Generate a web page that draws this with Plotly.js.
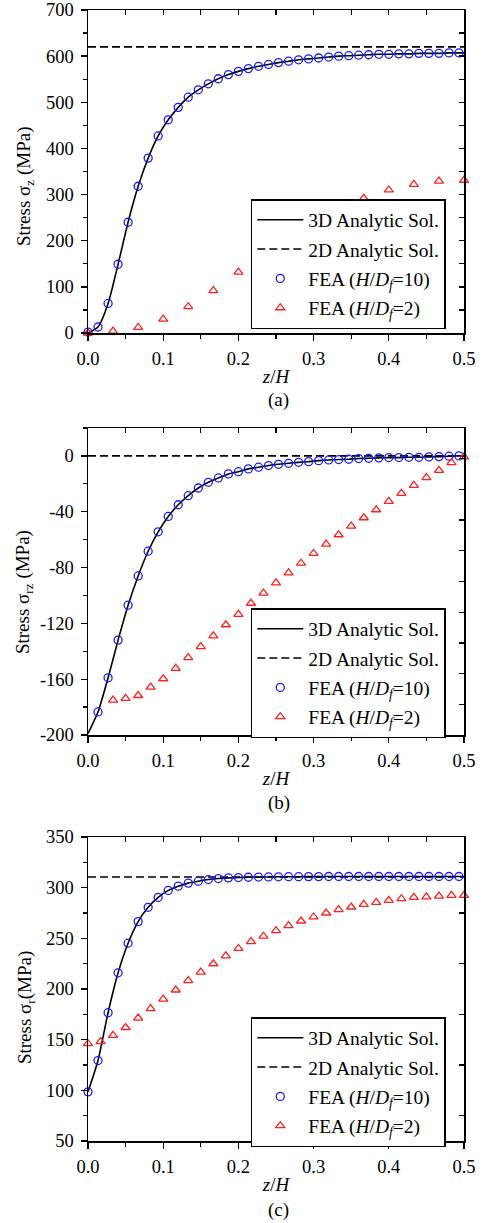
<!DOCTYPE html>
<html>
<head>
<meta charset="utf-8">
<script src="https://cdn.plot.ly/plotly-3.0.1.min.js"></script>
<style>html,body{margin:0;padding:0;background:#fff;}#chart{width:484px;height:1223px;}</style>
</head>
<body>
<div id="chart"></div>
<script>
// ---------- data ----------
const legendNames = ['3D Analytic Sol.', '2D Analytic Sol.', 'FEA (<i>H</i>/<i>D<sub>f</sub></i>=10)', 'FEA (<i>H</i>/<i>D<sub>f</sub></i>=2)'];
const panelLabels = ['(a)', '(b)', '(c)'];
const yTitles = ['Stress σ<sub>z</sub> (MPa)', 'Stress σ<sub>rz</sub> (MPa)', 'Stress σ<sub>r</sub>(MPa)'];

// y tick values per panel
const yTickVals = [
  [0, 100, 200, 300, 400, 500, 600, 700],
  [-200, -160, -120, -80, -40, 0],
  [50, 100, 150, 200, 250, 300, 350]
];

// FEA H/Df=10 positions (z/H)
const zFine = [0,0.0133,0.0267,0.04,0.0533,0.0667,0.08,0.0933,0.1067,0.12,0.1333,0.1467,0.16,0.1733,0.1867,0.2,0.2133,0.2267,0.24,0.2533,0.2667,0.28,0.2933,0.3067,0.32,0.3333,0.3467,0.36,0.3733,0.3867,0.4,0.4133,0.4267,0.44,0.4533,0.4667,0.48,0.4933];
const zLine = [0,0.0133,0.0267,0.04,0.0533,0.0667,0.08,0.0933,0.1067,0.12,0.1333,0.1467,0.16,0.1733,0.1867,0.2,0.2133,0.2267,0.24,0.2533,0.2667,0.28,0.2933,0.3067,0.32,0.3333,0.3467,0.36,0.3733,0.3867,0.4,0.4133,0.4267,0.44,0.4533,0.4667,0.48,0.4933,0.5];
const zRzBlue = [0.0133,0.0267,0.04,0.0533,0.0667,0.08,0.0933,0.1067,0.12,0.1333,0.1467,0.16,0.1733,0.1867,0.2,0.2133,0.2267,0.24,0.2533,0.2667,0.28,0.2933,0.3067,0.32,0.3333,0.3467,0.36,0.3733,0.3867,0.4,0.4133,0.4267,0.44,0.4533,0.4667,0.48,0.4933];
const zCoarse30 = [0,0.0333,0.0667,0.1,0.1333,0.1667,0.2,0.2333,0.2667,0.3,0.3333,0.3667,0.4,0.4333,0.4667,0.5];
const zRzRed = [0.0333,0.05,0.0667,0.0833,0.1,0.1167,0.1333,0.15,0.1667,0.1833,0.2,0.2167,0.2333,0.25,0.2667,0.2833,0.3,0.3167,0.3333,0.35,0.3667,0.3833,0.4,0.4167,0.4333,0.45,0.4667,0.4833,0.5];
const zRRed = [0,0.0167,0.0333,0.05,0.0667,0.0833,0.1,0.1167,0.1333,0.15,0.1667,0.1833,0.2,0.2167,0.2333,0.25,0.2667,0.2833,0.3,0.3167,0.3333,0.35,0.3667,0.3833,0.4,0.4167,0.4333,0.45,0.4667,0.4833,0.5];
const z2D = [0, 0.5];

// (a) sigma_z
const sz3D = [0,13,64,149,240,318,379,427,462,489,511,527,540,551,560,567,573,578,582,586,589,592,594,596,598,600,601,602,603,604,604,605,605,606,606,606,607,607,607];
const sz2D = [620, 620];
const szFEA10 = [2,13,64,149,240,318,379,427,462,489,511,527,540,551,560,567,573,578,582,586,589,592,594,596,598,600,601,602,603,604,604,605,605,606,606,606,607,607];
const szFEA2 = [0,4,12,30,57,92,132,172,208,240,268,292,310,322,329,331];

// (b) sigma_rz
const srz3D = [-199,-183.5,-159,-132,-107,-86,-68.3,-54.4,-43.4,-35,-28.5,-23,-18.9,-15.8,-12.9,-11.3,-9.3,-8.1,-6.9,-6,-5.3,-4.6,-4.1,-3.4,-2.9,-2.6,-2.4,-1.9,-1.7,-1.4,-1.2,-1.2,-1,-1,-0.7,-0.5,-0.2,0,0];
const srz2D = [0, 0];
const srzFEA10 = [-183.5,-159,-132,-107,-86,-68.3,-54.4,-43.4,-35,-28.5,-23,-18.9,-15.8,-12.9,-11.3,-9.3,-8.1,-6.9,-6,-5.3,-4.6,-4.1,-3.4,-2.9,-2.6,-2.4,-1.9,-1.7,-1.4,-1.2,-1.2,-1,-1,-0.7,-0.5,-0.2,0];
const srzFEA2 = [-175,-173.8,-171.7,-165.7,-159.7,-152.2,-144.5,-136.6,-128.9,-121,-113.5,-105.6,-98.3,-91,-83.8,-76.9,-69.9,-63.2,-56.5,-50.3,-44.3,-38.6,-32.6,-26.8,-21.1,-15.6,-10.3,-4.8,-0.7];

// (c) sigma_r
const sr3D = [98.5,129.4,176.6,216,245.2,266.5,280.6,290.4,297.3,301.5,304.5,306.4,308,309,309.7,310,310.3,310.5,310.6,310.7,310.8,310.8,310.9,310.9,311,311,311,311,311,311,311,311,311,311,311,311,311,311,311];
const sr2D = [310.5, 310.5];
const srFEA10 = [98.5,129.4,176.6,216,245.2,266.5,280.6,290.4,297.3,301.5,304.5,306.4,308,309,309.7,310,310.3,310.5,310.6,310.7,310.8,310.8,310.9,310.9,311,311,311,311,311,311,311,311,311,311,311,311,311,311];
const srFEA2 = [146,148,154.3,162,171.3,180.6,190,199,208.2,216.7,224.9,232.7,240,246.8,252.1,257.6,262.5,267.1,271.1,275,278.3,280.9,283.5,285.5,287.4,289.1,290.4,291,291.7,292.4,292.4];

const yRanges = [[0,700],[-200,20],[50,350]];
const yMinor = [50, 20, 25];

// ---------- layout helpers ----------
const W = 484, H = 1223;
const mL = 88, mR = 19.5, mT = 10, mB = 82;
const plotW = W - mL - mR, plotH = H - mT - mB;
const py = p => (H - mB - p) / plotH;
const px = p => (p - mL) / plotW;

const FONT = "'Liberation Serif', 'Times New Roman', Times, serif";
const TICK = 18.5, LEG = 19.5, TIT = 19;
const panelPix = [[10, 333], [428, 735], [837, 1141]];
const legendTop = [199, 608, 1017];
const labelY = [400, 803, 1210];
const yTitlePos = [[25, 186], [24, 592], [26, 1008]];
const rightTicks = [{tick0: 0, dtick: 50}, {tick0: -200, dtick: 22}, {tick0: 75, dtick: 50}];

const sets = [
  {l3: sz3D, l2: sz2D, fx10: zFine, f10: szFEA10, fx2: zCoarse30, f2: szFEA2},
  {l3: srz3D, l2: srz2D, fx10: zRzBlue, f10: srzFEA10, fx2: zRzRed, f2: srzFEA2},
  {l3: sr3D, l2: sr2D, fx10: zFine, f10: srFEA10, fx2: zRRed, f2: srFEA2}
];

const data = [];
const layout = {
  width: W, height: H,
  margin: {l: mL, r: mR, t: mT, b: mB},
  paper_bgcolor: '#fff', plot_bgcolor: '#fff',
  font: {family: FONT, size: TICK, color: '#000'},
  showlegend: true,
  annotations: []
};

sets.forEach((s, k) => {
  const n = k + 1;
  const xa = n === 1 ? 'x' : 'x' + n;
  const ya = n === 1 ? 'y' : 'y' + n;
  const leg = n === 1 ? 'legend' : 'legend' + n;
  data.push({x: zLine, y: s.l3, xaxis: xa, yaxis: ya, legend: leg, legendgroup: 'g1' + n, name: legendNames[0], mode: 'lines',
             line: {color: '#000', width: 1.6, shape: 'spline', smoothing: 0.6}});
  data.push({x: z2D, y: s.l2, xaxis: xa, yaxis: ya, legend: leg, legendgroup: 'g2' + n, name: legendNames[1], mode: 'lines',
             line: {color: '#000', width: 1.6, dash: '8px,4px'}});
  data.push({x: s.fx10, y: s.f10, xaxis: xa, yaxis: ya, legend: leg, legendgroup: 'g3' + n, name: legendNames[2], mode: 'markers',
             marker: {symbol: 'circle-open', size: 8, color: '#1a1aff', line: {width: 1.3, color: '#1a1aff'}}, cliponaxis: false});
  data.push({x: s.fx2, y: s.f2, xaxis: xa, yaxis: ya, legend: leg, legendgroup: 'g4' + n, name: legendNames[3], mode: 'markers',
             marker: {symbol: 'triangle-up-open', size: 8, color: '#ff2020', line: {width: 1.3, color: '#ff2020'}}, cliponaxis: false});

  const dom = [py(panelPix[k][1]), py(panelPix[k][0])];
  const xKey = n === 1 ? 'xaxis' : 'xaxis' + n;
  const yKey = n === 1 ? 'yaxis' : 'yaxis' + n;
  layout[xKey] = {
    anchor: ya, domain: [0, 1], range: [0, 0.5], dtick: 0.1, tick0: 0, tickformat: '.1f',
    ticks: 'outside', ticklen: 6, tickwidth: 1.3, tickcolor: '#000',
    minor: {dtick: 0.05, ticks: 'outside', ticklen: 4, tickwidth: 1.3, tickcolor: '#000', showgrid: false},
    showline: true, mirror: true, linewidth: 1.5, linecolor: '#000',
    showgrid: false, zeroline: false, fixedrange: true, ticklabelstandoff: 2,
    tickfont: {family: FONT, size: TICK, color: '#000'},
    title: {text: '<i>z</i>/<i>H</i>', font: {family: FONT, size: TIT, color: '#000'}, standoff: 2},
    automargin: false
  };
  layout[yKey] = {
    anchor: xa, domain: dom, range: yRanges[k],
    tickmode: 'array', tickvals: yTickVals[k], ticktext: yTickVals[k].map(v => String(v)),
    ticks: 'outside', ticklen: 6, tickwidth: 1.3, tickcolor: '#000',
    minor: {dtick: yMinor[k], tick0: 0, ticks: 'outside', ticklen: 4, tickwidth: 1.3, tickcolor: '#000', showgrid: false},
    showline: true, mirror: true, linewidth: 1.5, linecolor: '#000',
    showgrid: false, zeroline: false, fixedrange: true, ticklabelstandoff: 3,
    tickfont: {family: FONT, size: TICK, color: '#000'},
    automargin: false
  };
  // mirrored inside ticks (top / right)
  const xo = 'x' + (n + 3), yo = 'y' + (n + 3);
  layout['xaxis' + (n + 3)] = {
    overlaying: xa, anchor: ya, side: 'top', range: [0, 0.5], tick0: 0, dtick: 0.05,
    ticks: 'inside', ticklen: 5, tickwidth: 1.3, tickcolor: '#000',
    showticklabels: false, showgrid: false, zeroline: false, showline: false, fixedrange: true
  };
  layout['yaxis' + (n + 3)] = {
    overlaying: ya, anchor: xa, side: 'right', range: yRanges[k], tick0: rightTicks[k].tick0, dtick: rightTicks[k].dtick,
    ticks: 'inside', ticklen: 5, tickwidth: 1.3, tickcolor: '#000',
    showticklabels: false, showgrid: false, zeroline: false, showline: false, fixedrange: true
  };
  data.push({x: [null], y: [null], xaxis: xo, yaxis: yo, mode: 'markers', showlegend: false, hoverinfo: 'skip'});

  layout[leg] = {
    x: px(251), y: py(legendTop[k]), xanchor: 'left', yanchor: 'top',
    bgcolor: '#fff', bordercolor: '#000', borderwidth: 1.5,
    font: {family: FONT, size: LEG, color: '#000'}, tracegroupgap: 1, itemwidth: 46
  };

  layout.annotations.push({text: panelLabels[k], xref: 'paper', yref: 'paper', x: px(279), y: py(labelY[k]),
    xanchor: 'center', yanchor: 'middle', showarrow: false, font: {family: FONT, size: TIT, color: '#000'}});
  layout.annotations.push({text: yTitles[k], xref: 'paper', yref: 'paper', x: px(yTitlePos[k][0]), y: py(yTitlePos[k][1]),
    xanchor: 'center', yanchor: 'middle', textangle: -90, showarrow: false, font: {family: FONT, size: TIT, color: '#000'}});
});

Plotly.newPlot('chart', data, layout, {staticPlot: true, displayModeBar: false});
</script>
</body>
</html>
